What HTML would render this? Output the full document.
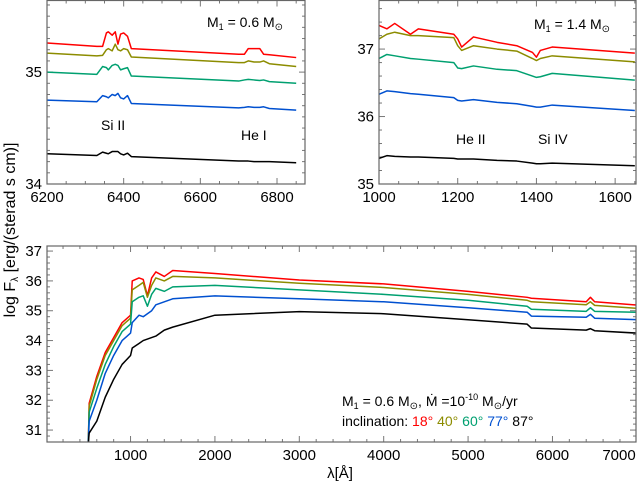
<!DOCTYPE html>
<html><head><meta charset="utf-8"><style>
html,body{margin:0;padding:0;background:#fff;}
svg{display:block;font-family:"Liberation Sans",sans-serif;}
</style></head><body>
<svg id="chart" width="638" height="483" viewBox="0 0 638 483">
<g id="p1"></g>
<g id="p2"></g>
<g id="p3"></g>
<text x="0" y="0" transform="translate(15,230) rotate(-90)" text-anchor="middle" font-size="16" fill="#000">log F<tspan font-size="10" dy="3">λ</tspan><tspan dy="-3"> [erg/(sterad s cm)]</tspan></text>
<text x="340" y="478" text-anchor="middle" font-size="15" fill="#000">λ[Å]</text>
<text x="207" y="27" font-size="14" fill="#000">M<tspan font-size="9" dy="3">1</tspan><tspan dy="-3"> = 0.6 M</tspan><tspan font-size="10" dy="3">⊙</tspan></text>
<text x="534" y="29" font-size="14" fill="#000">M<tspan font-size="9" dy="3">1</tspan><tspan dy="-3"> = 1.4 M</tspan><tspan font-size="10" dy="3">⊙</tspan></text>
<text x="101" y="130" font-size="14" fill="#000">Si II</text>
<text x="241" y="140" font-size="14" fill="#000">He I</text>
<text x="456" y="144" font-size="14" fill="#000">He II</text>
<text x="538" y="144" font-size="14" fill="#000">Si IV</text>
<text x="342" y="406" font-size="14" fill="#000">M<tspan font-size="9" dy="3">1</tspan><tspan dy="-3"> = 0.6 M</tspan><tspan font-size="10" dy="3">⊙</tspan><tspan dy="-3">, Ṁ =10</tspan><tspan font-size="9" dy="-6">-10</tspan><tspan dy="6"> M</tspan><tspan font-size="10" dy="3">⊙</tspan><tspan dy="-3">/yr</tspan></text>
<text x="342" y="426" font-size="14" fill="#000">inclination: <tspan fill="#ff0000">18°</tspan> <tspan fill="#8c8c00">40°</tspan> <tspan fill="#00a070">60°</tspan> <tspan fill="#0050d0">77°</tspan> <tspan fill="#000">87°</tspan></text>
</svg>
<script>
// ---- panel 1 data (optical, M1=0.6) ----
const p1Wave=[6200,6330,6345,6355,6360,6370,6378,6385,6392,6400,6410,6420,6700,6715,6725,6740,6755,6765,6780,6850];
const p1i18=[35.26,35.23,35.23,35.35,35.36,35.33,35.36,35.25,35.34,35.35,35.32,35.21,35.16,35.16,35.21,35.21,35.21,35.16,35.155,35.13];
const p1i40=[35.17,35.145,35.15,35.2,35.21,35.19,35.25,35.2,35.19,35.21,35.2,35.135,35.085,35.085,35.1,35.09,35.09,35.1,35.075,35.05];
const p1i60=[35.0,34.98,35.05,35.04,35.02,35.06,35.07,35.06,35.02,35.03,35.04,34.965,34.92,34.93,34.935,34.93,34.925,34.93,34.915,34.9];
const p1i77=[34.75,34.735,34.79,34.78,34.77,34.8,34.79,34.81,34.77,34.76,34.79,34.72,34.68,34.685,34.69,34.685,34.685,34.69,34.675,34.66];
const p1i87=[34.27,34.255,34.285,34.275,34.27,34.29,34.29,34.29,34.27,34.26,34.275,34.245,34.205,34.205,34.205,34.2,34.2,34.2,34.2,34.19];
const p1XTicks=[6200,6400,6600,6800];
const p1YTicks=[34,35];
// ---- panel 2 data (UV, M1=1.4) ----
const p2Wave=[1000,1020,1040,1080,1100,1190,1200,1210,1240,1300,1350,1390,1400,1410,1440,1650];
const p2i18=[37.35,37.3,37.38,37.22,37.3,37.22,37.15,37.03,37.18,37.1,37.05,36.95,36.88,36.98,37.03,36.94];
const p2i40=[37.15,37.22,37.25,37.2,37.2,37.17,37.05,36.98,37.05,37.0,36.97,36.86,36.83,36.86,36.9,36.81];
const p2i60=[36.86,36.92,36.9,36.86,36.85,36.8,36.72,36.71,36.75,36.7,36.68,36.6,36.58,36.59,36.64,36.54];
const p2i77=[36.33,36.38,36.37,36.34,36.33,36.28,36.24,36.23,36.25,36.21,36.19,36.15,36.14,36.14,36.17,36.09];
const p2i87=[35.38,35.42,35.41,35.4,35.4,35.38,35.37,35.37,35.37,35.35,35.34,35.31,35.3,35.3,35.31,35.27];
const p2XTicks=[1000,1200,1400,1600];
const p2YTicks=[35,36,37];
// ---- panel 3 data (full spectrum) ----
const p3Wave=[500,510,600,700,800,900,1000,1020,1100,1150,1200,1250,1300,1400,1500,2000,3000,4000,5000,5700,5750,6400,6450,6500,7000];
const p3i18=[30.6,31.9,32.8,33.6,34.1,34.6,34.85,36.0,36.1,36.05,35.5,36.1,36.3,36.15,36.35,36.25,36.03,35.9,35.65,35.45,35.42,35.3,35.45,35.3,35.19];
const p3i40=[30.6,31.8,32.7,33.5,34.0,34.5,34.75,35.7,35.85,35.95,35.45,35.85,36.1,36.0,36.15,36.1,35.92,35.78,35.55,35.35,35.3,35.2,35.3,35.18,35.08];
const p3i60=[30.6,31.6,32.4,33.2,33.8,34.3,34.55,35.3,35.45,35.5,35.15,35.55,35.75,35.65,35.8,35.85,35.7,35.55,35.35,35.15,35.05,34.98,35.1,34.98,34.95];
const p3i77=[30.6,31.3,32.0,32.9,33.5,34.0,34.25,34.6,34.85,34.8,34.9,35.0,35.2,35.3,35.4,35.5,35.4,35.3,35.1,34.95,34.82,34.78,34.88,34.75,34.7];
const p3i87=[30.6,30.9,31.3,32.1,32.7,33.2,33.5,33.75,33.9,34.0,34.05,34.1,34.15,34.35,34.45,34.85,34.97,34.9,34.7,34.55,34.42,34.35,34.4,34.33,34.25];
const p3XTicks=[1000,2000,3000,4000,5000,6000,7000];
const p3YTicks=[31,32,33,34,35,36,37];

const colors=['#ff0000','#8c8c00','#00a070','#0050d0','#000000'];
const incl=['18','40','60','77','87'];
const NS='http://www.w3.org/2000/svg';
function mk(tag,attrs,parent){const e=document.createElementNS(NS,tag);for(const k in attrs)e.setAttribute(k,attrs[k]);parent.appendChild(e);return e;}

function panel(g,box,xd,yd,xTicks,xMinor,yTicks,yMinor,wave,series,clipId,name){
  const sx=v=>box.x0+(v-xd[0])/(xd[1]-xd[0])*(box.x1-box.x0);
  const sy=v=>box.y1-(v-yd[0])/(yd[1]-yd[0])*(box.y1-box.y0);
  const defs=mk('defs',{},g);
  const cp=mk('clipPath',{id:clipId},defs);
  mk('rect',{x:box.x0,y:box.y0,width:box.x1-box.x0,height:box.y1-box.y0},cp);
  const tg=mk('g',{stroke:'#777','stroke-width':1},g);
  
  
  for(let v=Math.ceil(xd[0]/xMinor)*xMinor;v<=xd[1];v+=xMinor){
    const X=sx(v), major=xTicks.includes(v), L=major?6:3;
    mk('line',{x1:X,x2:X,y1:box.y1,y2:box.y1-L},tg);
    mk('line',{x1:X,x2:X,y1:box.y0,y2:box.y0+L},tg);
  }
  for(let i=Math.ceil(yd[0]/yMinor-1e-9);i*yMinor<=yd[1]+1e-9;i++){
    const v=i*yMinor, Y=sy(v), major=Math.abs(v-Math.round(v))<1e-6&&yTicks.includes(Math.round(v)), L=major?6:3;
    mk('line',{x1:box.x0,x2:box.x0+L,y1:Y,y2:Y},tg);
    mk('line',{x1:box.x1,x2:box.x1-L,y1:Y,y2:Y},tg);
  }
  xTicks.forEach(v=>{
    const t=mk('text',{x:Math.min(sx(v),box.x1-17),y:box.y1+18,'text-anchor':'middle','font-size':15},g);
    t.textContent=v;
    
    
  });
  yTicks.forEach(v=>{
    const t=mk('text',{x:box.x0-5,y:sy(v)+5,'text-anchor':'end','font-size':15},g);
    t.textContent=v;
    
    
  });
  const lg=mk('g',{'clip-path':'url(#'+clipId+')'},g);
  series.forEach((s,i)=>{
    const d=wave.map((w,j)=>(j?'L':'M')+sx(w).toFixed(2)+','+sy(s[j]).toFixed(2)).join('');
    const p=mk('path',{d:d,fill:'none',stroke:colors[i],'stroke-width':1.5,'stroke-linejoin':'round'},lg);
    
    
  });
  const fr=mk('rect',{x:box.x0,y:box.y0,width:box.x1-box.x0,height:box.y1-box.y0,fill:'none',stroke:'#666','stroke-width':1.2},g);
  
  
}
panel(document.getElementById('p1'),{x0:47,x1:305,y0:0.5,y1:184},[6200,6873],[34,35.64],p1XTicks,50,p1YTicks,0.1,p1Wave,[p1i18,p1i40,p1i60,p1i77,p1i87],'c1','top-left');
panel(document.getElementById('p2'),{x0:379,x1:636,y0:0.5,y1:184},[1000,1653],[35,37.72],p2XTicks,50,p2YTicks,0.2,p2Wave,[p2i18,p2i40,p2i60,p2i77,p2i87],'c2','top-right');
panel(document.getElementById('p3'),{x0:47,x1:636,y0:246,y1:442},[10,6990],[30.6,37.17],p3XTicks,200,p3YTicks,0.2,p3Wave,[p3i18,p3i40,p3i60,p3i77,p3i87],'c3','bottom');
</script>
</body></html>
